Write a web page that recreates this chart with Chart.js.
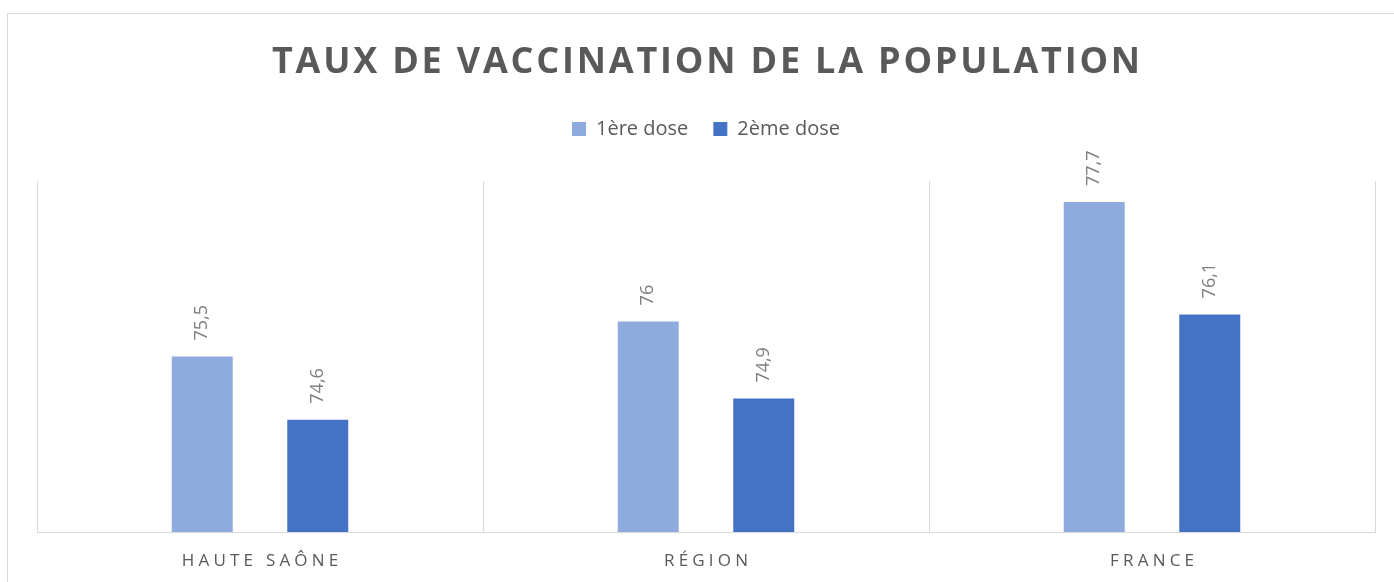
<!DOCTYPE html>
<html lang="fr">
<head>
    <meta charset="utf-8">
    <title>Taux de vaccination de la population</title>
    <script src="https://cdn.jsdelivr.net/npm/chart.js@4/dist/chart.umd.min.js"></script>
    <style>
        html, body { margin: 0; padding: 0; background: #ffffff; }
        #wrap { position: relative; width: 1394px; height: 582px; }
    </style>
</head>
<body>
<div id="wrap">
    <canvas id="tauxVaccination"></canvas>
</div>

<script type="text/javascript">

    const categories = ["HAUTE SAÔNE", "RÉGION", "FRANCE"];
    const dose1 = [75.5, 76, 77.7];
    const dose2 = [74.6, 74.9, 76.1];
    const seriesNames = ["1ère dose", "2ème dose"];
    const titleText = "TAUX DE VACCINATION DE LA POPULATION";

    const textGrey = "#595959";
    const labelGrey = "#7f7f7f";
    const lineGrey = "#d9d9d9";
    const fontName = "'Open Sans', 'Noto Sans', sans-serif";

    function frNumber(v) {
        return String(v).replace(".", ",");
    }

    // cadre gris autour du graphique
    const framePlugin = {
        id: "frame",
        beforeDraw(chart) {
            const ctx = chart.ctx;
            ctx.save();
            ctx.strokeStyle = lineGrey;
            ctx.lineWidth = 1;
            ctx.strokeRect(7.5, 13.5, chart.width + 20, chart.height + 20);
            ctx.restore();
        }
    };

    // espace sous la légende
    const legendGap = {
        id: "legendGap",
        beforeInit(chart) {
            const fit = chart.legend.fit;
            chart.legend.fit = function () {
                fit.bind(chart.legend)();
                this.height += 32;
            };
        }
    };

    // étiquettes de valeurs verticales au-dessus des barres
    const valueLabels = {
        id: "valueLabels",
        afterDatasetsDraw(chart) {
            const ctx = chart.ctx;
            ctx.save();
            ctx.fillStyle = labelGrey;
            ctx.font = "18px " + fontName;
            ctx.textAlign = "left";
            ctx.textBaseline = "middle";
            chart.data.datasets.forEach((ds, di) => {
                const meta = chart.getDatasetMeta(di);
                meta.data.forEach((bar, i) => {
                    ctx.save();
                    ctx.translate(bar.x, bar.y - 16);
                    ctx.rotate(-Math.PI / 2);
                    ctx.fillText(frNumber(ds.data[i]), 0, 0);
                    ctx.restore();
                });
            });
            ctx.restore();
        }
    };

    // titre et libellés d'axe avec espacement des lettres
    const spacedText = {
        id: "spacedText",
        afterDraw(chart) {
            const ctx = chart.ctx;
            ctx.save();
            ctx.fillStyle = textGrey;
            ctx.textAlign = "center";
            ctx.textBaseline = "middle";

            const tb = chart.titleBlock;
            const tOpts = chart.options.plugins.title;
            ctx.font = "bold 36px " + fontName;
            ctx.letterSpacing = "2.8px";
            ctx.fillText(titleText, (tb.left + tb.right) / 2 + 1.4, tb.top + tOpts.padding.top + 36 * 1.2 / 2);

            const xs = chart.scales.x;
            ctx.font = "17px " + fontName;
            ctx.letterSpacing = "4.2px";
            categories.forEach((c, i) => {
                ctx.fillText(c, xs.getPixelForTick(i) + 2.1, xs.top + 29);
            });
            ctx.restore();
        }
    };

    new Chart("tauxVaccination", {
        type: "bar",
        data: {
            labels: categories,
            datasets: [
                {
                    label: seriesNames[0],
                    data: dose1,
                    backgroundColor: "#8faadc",
                    categoryPercentage: 0.518,
                    barPercentage: 0.528
                },
                {
                    label: seriesNames[1],
                    data: dose2,
                    backgroundColor: "#4472c4",
                    categoryPercentage: 0.518,
                    barPercentage: 0.528
                }
            ]
        },
        options: {
            responsive: true,
            maintainAspectRatio: false,
            animation: false,
            layout: {
                padding: {left: 37, right: 19, top: 0, bottom: 0}
            },
            plugins: {
                title: {
                    display: true,
                    text: titleText,
                    color: "rgba(0,0,0,0)",
                    font: {family: fontName, size: 36, weight: "bold"},
                    padding: {top: 41.4, bottom: 9.4}
                },
                legend: {
                    display: true,
                    position: "top",
                    labels: {
                        color: textGrey,
                        font: {family: fontName, size: 20},
                        boxWidth: 14,
                        boxHeight: 14,
                        padding: 25
                    }
                },
                tooltip: {enabled: false}
            },
            scales: {
                x: {
                    grid: {
                        display: true,
                        color: lineGrey,
                        lineWidth: 1,
                        drawTicks: false,
                        offset: true
                    },
                    border: {display: true, color: lineGrey, width: 1},
                    ticks: {
                        color: "rgba(0,0,0,0)",
                        font: {family: fontName, size: 17},
                        padding: 14.8
                    }
                },
                y: {
                    display: false,
                    min: 73,
                    max: 78
                }
            }
        },
        plugins: [framePlugin, legendGap, valueLabels, spacedText]
    });

</script>
</body>
</html>
